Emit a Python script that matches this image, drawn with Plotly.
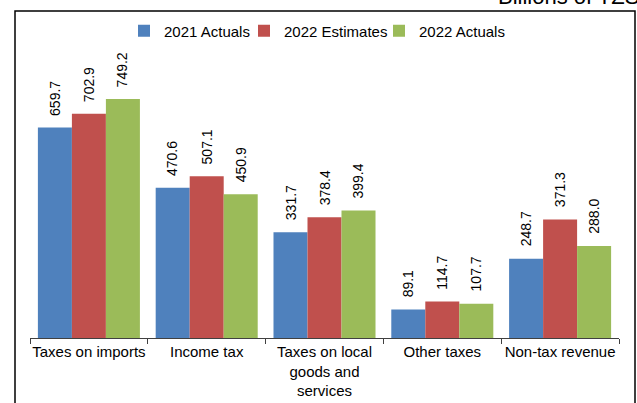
import plotly.graph_objects as go

categories = ["Taxes on imports", "Income tax", "Taxes on local<br>goods and<br>services",
              "Other taxes", "Non-tax revenue"]
series_names = ["2021 Actuals", "2022 Estimates", "2022 Actuals"]
actuals_2021 = [659.7, 470.6, 331.7, 89.1, 248.7]
estimates_2022 = [702.9, 507.1, 378.4, 114.7, 371.3]
actuals_2022 = [749.2, 450.9, 399.4, 107.7, 288.0]
colors = ["#4F81BD", "#C0504D", "#9BBB59"]
unit_title = "Billions of TZS"

FONT = "Liberation Sans, Arial, sans-serif"
series = [actuals_2021, estimates_2022, actuals_2022]

W, H = 637, 403
ml, mr, mt, mb = 30, 18, 48, 65
pw = W - ml - mr
ph = H - mt - mb
base = H - mb  # pixel row of the x axis


def px_x(x):
    return (x - ml) / pw


def px_y(y):
    return (base - y) / ph


legend_names = ["legend", "legend2", "legend3"]
legend_text_x = [164, 284, 419]

fig = go.Figure()
for name, vals, col, lg in zip(series_names, series, colors, legend_names):
    fig.add_trace(go.Bar(x=categories, y=vals, name=name, legend=lg,
                         marker=dict(color=col, line=dict(width=0))))

cat_w = pw / len(categories)
bargap = 0.134
bar_w = cat_w * (1 - bargap) / 3
annotations = []
for i, vals in enumerate(series):
    for c, v in zip(categories, vals):
        annotations.append(dict(
            x=c, y=v, xref="x", yref="y", text=f"{v:.1f}", showarrow=False,
            textangle=-90, yanchor="bottom", xanchor="center",
            xshift=(i - 1) * bar_w, yshift=10,
            font=dict(family=FONT, size=14, color="#000000")))

annotations.append(dict(
    x=px_x(641), y=px_y(11), xref="paper", yref="paper",
    text=unit_title, showarrow=False, xanchor="right", yanchor="bottom",
    font=dict(family=FONT, size=22, color="#000000")))

legends = {}
for lg, tx in zip(legend_names, legend_text_x):
    legends[lg] = dict(orientation="h", x=px_x(tx - 40), xanchor="left",
                       y=px_y(31), yanchor="middle",
                       font=dict(family=FONT, size=15, color="#000000"),
                       bgcolor="rgba(0,0,0,0)", itemwidth=30, borderwidth=0)

fig.update_layout(
    width=W, height=H,
    margin=dict(l=ml, r=mr, t=mt, b=mb, autoexpand=False),
    paper_bgcolor="white", plot_bgcolor="white",
    barmode="group", bargap=bargap, bargroupgap=0,
    font=dict(family=FONT, size=15, color="#000000"),
    showlegend=True,
    annotations=annotations,
    shapes=[dict(type="rect", xref="paper", yref="paper",
                 x0=px_x(15), x1=px_x(635), y0=px_y(420), y1=px_y(11),
                 line=dict(color="#000000", width=1.5), fillcolor="rgba(0,0,0,0)",
                 layer="above")],
    xaxis=dict(showline=True, linecolor="#404040", linewidth=1,
               ticks="outside", ticklen=5, tickcolor="#404040", tickson="boundaries",
               tickangle=0, automargin=False,
               showgrid=False, zeroline=False,
               tickfont=dict(family=FONT, size=15, color="#000000")),
    yaxis=dict(range=[0, 909], visible=False, showgrid=False, zeroline=False,
               automargin=False),
    **legends,
)

fig.write_html("out.html",
               config={"displayModeBar": False},
               post_script="document.body.style.margin='0px';"
                           "document.body.style.overflow='hidden';")
